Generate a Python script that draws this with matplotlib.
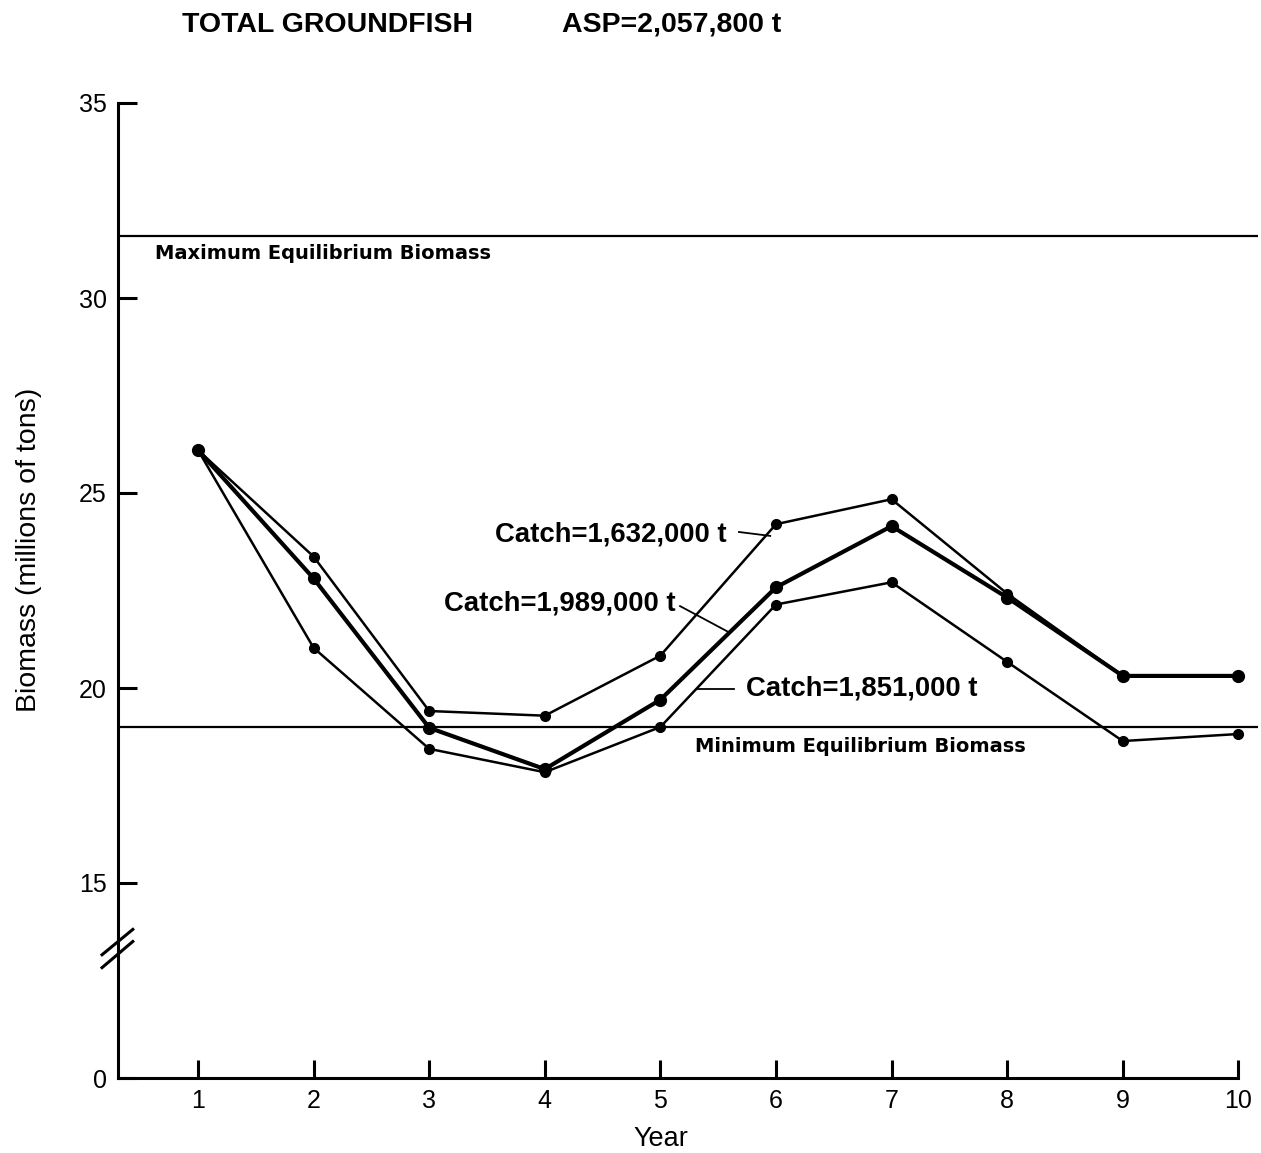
import numpy as np
import matplotlib
matplotlib.use("Agg")
import matplotlib.pyplot as plt
import matplotlib.transforms as mtransforms

# data (biomass, millions of tons)
years = [1, 2, 3, 4, 5, 6, 7, 8, 9, 10]
catch_1632 = [26.1, 23.37, 19.41, 19.29, 20.83, 24.2, 24.84, 22.42, 20.31, 20.31]
catch_1989 = [26.1, 22.81, 18.98, 17.92, 19.7, 22.58, 24.15, 22.32, 20.31, 20.31]
catch_1851 = [26.1, 21.03, 18.44, 17.84, 19.0, 22.14, 22.71, 20.67, 18.64, 18.82]
max_equilibrium = 31.6
min_equilibrium = 19.0

# broken axis: the "0" label sits where 10 would be
ytick_pos = [10, 15, 20, 25, 30, 35]
ytick_labels = ["0", "15", "20", "25", "30", "35"]

plt.rcParams['font.family'] = ['Liberation Sans', 'DejaVu Sans']

fig = plt.figure(figsize=(12.61, 11.53), dpi=100)
ax = fig.add_axes([118 / 1261, 75 / 1153, 1140 / 1261, 975 / 1153])

ax.axhline(max_equilibrium, color='black', lw=1.6)
ax.axhline(min_equilibrium, color='black', lw=1.6)

ax.plot(years, catch_1632, color='black', lw=1.8, marker='o', ms=7)
ax.plot(years, catch_1851, color='black', lw=1.8, marker='o', ms=7)
ax.plot(years, catch_1989, color='black', lw=3.0, marker='o', ms=8.5)

ax.set_xlim(0.308, 10.17)
ax.set_ylim(10, 35)
ax.spines['top'].set_visible(False)
ax.spines['right'].set_visible(False)
ax.spines['left'].set_linewidth(2.2)
ax.spines['bottom'].set_linewidth(2.2)
ax.spines['bottom'].set_bounds(0.308, 10)
ax.spines['left'].set_bounds(10, 35)

ax.set_xticks(years)
ax.set_xticklabels([str(y) for y in years])
ax.set_yticks(ytick_pos)
ax.set_yticklabels(ytick_labels)
ax.tick_params(axis='x', direction='in', length=13, width=2.2, labelsize=18, pad=8)
ax.tick_params(axis='y', direction='in', length=14, width=2.2, labelsize=18, pad=8)

ax.set_xlabel("Year", fontsize=19.5)
ax.xaxis.set_label_coords((661 - 118) / 1140, -0.049)
ax.set_ylabel("Biomass (millions of tons)", fontsize=20.5)
ax.yaxis.set_label_coords(-0.067, (1078 - 550) / 975)

# axis break marks
trans = mtransforms.blended_transform_factory(ax.transAxes, ax.transData)
for y0, y1 in [(13.16, 13.81), (12.83, 13.50)]:
    ax.plot([-0.014, 0.013], [y0, y1], color='black', lw=2.2,
            transform=trans, clip_on=False)

ax.text(0.63, 31.15, "Maximum Equilibrium Biomass", fontsize=14,
        fontweight='bold', family='DejaVu Sans', ha='left', va='center')
ax.text(5.3, 18.5, "Minimum Equilibrium Biomass", fontsize=14,
        fontweight='bold', family='DejaVu Sans', ha='left', va='center')

# catch labels with leader lines
ax.text(3.57, 23.93, "Catch=1,632,000 t", fontsize=19.8, fontweight='bold',
        ha='left', va='center')
ax.plot([5.68, 5.95], [24.0, 23.9], color='black', lw=1.3)
ax.text(3.13, 22.17, "Catch=1,989,000 t", fontsize=19.8, fontweight='bold',
        ha='left', va='center')
ax.plot([5.17, 5.58], [22.1, 21.45], color='black', lw=1.3)
ax.text(5.74, 19.98, "Catch=1,851,000 t", fontsize=19.8, fontweight='bold',
        ha='left', va='center')
ax.plot([5.32, 5.64], [19.97, 19.97], color='black', lw=1.3)

fig.text(182 / 1261, 1 - 25 / 1153, "TOTAL GROUNDFISH", fontsize=20.5,
         fontweight='bold', ha='left', va='center')
fig.text(562 / 1261, 1 - 25 / 1153, "ASP=2,057,800 t", fontsize=20.5,
         fontweight='bold', ha='left', va='center')

fig.savefig("out.png", dpi=100)
